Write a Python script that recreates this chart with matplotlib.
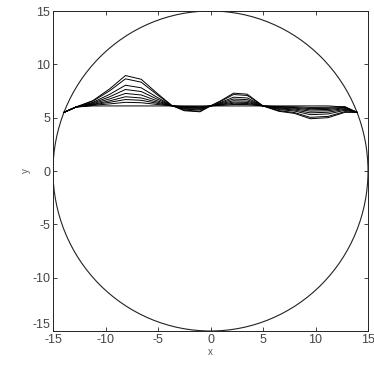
import matplotlib
matplotlib.use("Agg")
import matplotlib.pyplot as plt
from matplotlib.patches import Circle

# Data
tank_radius = 15.0
x_nodes = [-13.95, -12.8, -11.2, -9.6, -8.1, -6.6, -5.1, -3.7, -2.5, -1.0, 0.0,
           1.0, 2.2, 3.5, 5.0, 6.5, 8.0, 9.5, 11.2, 12.8, 13.95]

profiles = [
    [5.5, 6.0, 6.60, 7.70, 8.95, 8.60, 7.30, 6.15, 5.65, 5.55, 6.1, 6.60, 7.30, 7.20, 6.1, 5.60, 5.40, 4.90, 5.00, 5.50, 5.5],
    [5.5, 6.0, 6.55, 7.52, 8.64, 8.33, 7.17, 6.15, 5.70, 5.61, 6.1, 6.55, 7.17, 7.08, 6.1, 5.66, 5.48, 5.03, 5.12, 5.57, 5.5],
    [5.5, 6.0, 6.44, 7.19, 8.04, 7.80, 6.92, 6.13, 5.79, 5.73, 6.1, 6.44, 6.92, 6.85, 6.1, 5.76, 5.62, 5.28, 5.35, 5.69, 5.5],
    [5.5, 6.0, 6.37, 6.96, 7.64, 7.45, 6.75, 6.13, 5.86, 5.80, 6.1, 6.37, 6.75, 6.69, 6.1, 5.83, 5.72, 5.45, 5.51, 5.78, 5.5],
    [5.5, 6.0, 6.31, 6.76, 7.27, 7.13, 6.59, 6.12, 5.92, 5.87, 6.1, 6.31, 6.59, 6.55, 6.1, 5.90, 5.81, 5.61, 5.65, 5.85, 5.5],
    [5.5, 6.0, 6.25, 6.58, 6.96, 6.85, 6.46, 6.12, 5.97, 5.94, 6.1, 6.25, 6.46, 6.43, 6.1, 5.95, 5.89, 5.74, 5.77, 5.92, 5.5],
    [5.5, 6.0, 6.21, 6.44, 6.70, 6.63, 6.35, 6.11, 6.01, 5.98, 6.1, 6.21, 6.35, 6.33, 6.1, 6.00, 5.95, 5.85, 5.87, 5.97, 5.5],
    [5.5, 6.0, 6.16, 6.29, 6.44, 6.40, 6.24, 6.11, 6.05, 6.03, 6.1, 6.16, 6.24, 6.23, 6.1, 6.04, 6.02, 5.96, 5.97, 6.03, 5.5],
    [5.5, 6.0, 6.10, 6.10, 6.10, 6.10, 6.10, 6.10, 6.10, 6.10, 6.1, 6.10, 6.10, 6.10, 6.1, 6.10, 6.10, 6.10, 6.10, 6.00, 5.5],
]

ticks = [-15, -10, -5, 0, 5, 10, 15]

plt.rcParams['font.family'] = ['Liberation Sans', 'DejaVu Sans']
plt.rcParams['axes.unicode_minus'] = False

fig = plt.figure(figsize=(3.74, 3.67), dpi=100)
ax = fig.add_axes([53 / 374, 36 / 367, 315 / 374, 320 / 367])

ax.add_patch(Circle((0, 0), tank_radius, fill=False, edgecolor='#222222', linewidth=0.8))
for prof in profiles:
    ax.plot(x_nodes, prof, color='black', linewidth=0.7)

ax.set_xlim(-15, 15)
ax.set_ylim(-15, 15)
ax.set_xticks(ticks)
ax.set_yticks(ticks)
ax.tick_params(direction='in', length=3, width=0.6, top=True, right=True,
               labelsize=9, labelcolor='#444444', color='#222222')
ax.tick_params(axis='x', pad=2)
ax.tick_params(axis='y', pad=2)
for lbl in ax.get_yticklabels():
    if lbl.get_text() == '-15':
        lbl.set_verticalalignment('bottom')
for s in ax.spines.values():
    s.set_linewidth(0.7)
    s.set_color('#222222')
ax.set_xlabel('x', fontsize=7, color='#555555', labelpad=1)
ax.set_ylabel('y', fontsize=7, color='#555555', labelpad=1)

fig.savefig('out.png', dpi=100)
